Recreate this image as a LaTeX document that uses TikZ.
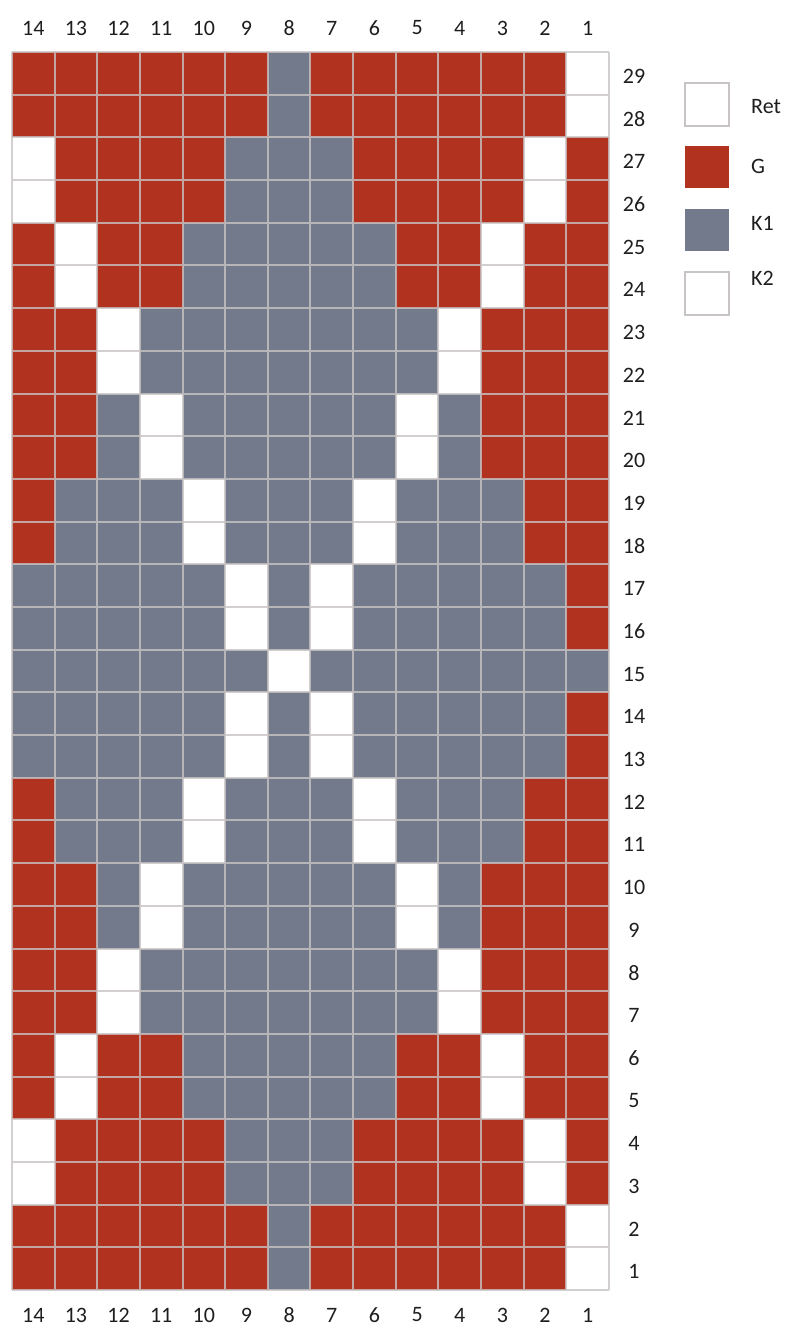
\documentclass[tikz,border=0pt]{standalone}
\usepackage{fontspec}
\setmainfont{Carlito}
\definecolor{c0}{HTML}{FFFFFF}
\definecolor{c1}{HTML}{B0321F}
\definecolor{c2}{HTML}{737A8C}
\definecolor{gline}{HTML}{C8C4C4}
\definecolor{txt}{HTML}{1E1E1E}
\begin{document}
\begin{tikzpicture}[x=1pt,y=-1pt,
  lbl/.style={font=\fontsize{22}{26}\selectfont, text=txt, inner sep=0pt},
  gl/.style={draw=gline, line width=2pt, opacity=0.8},
  legbox/.style={line width=1.8pt, draw=gline}]
\useasboundingbox (0,0) rectangle (799,1328);
\def\cw{42.64}
\def\ch{42.69}
\foreach \row [count=\j] in {
 {1,1,1,1,1,1,2,1,1,1,1,1,1,0},
 {1,1,1,1,1,1,2,1,1,1,1,1,1,0},
 {0,1,1,1,1,2,2,2,1,1,1,1,0,1},
 {0,1,1,1,1,2,2,2,1,1,1,1,0,1},
 {1,0,1,1,2,2,2,2,2,1,1,0,1,1},
 {1,0,1,1,2,2,2,2,2,1,1,0,1,1},
 {1,1,0,2,2,2,2,2,2,2,0,1,1,1},
 {1,1,0,2,2,2,2,2,2,2,0,1,1,1},
 {1,1,2,0,2,2,2,2,2,0,2,1,1,1},
 {1,1,2,0,2,2,2,2,2,0,2,1,1,1},
 {1,2,2,2,0,2,2,2,0,2,2,2,1,1},
 {1,2,2,2,0,2,2,2,0,2,2,2,1,1},
 {2,2,2,2,2,0,2,0,2,2,2,2,2,1},
 {2,2,2,2,2,0,2,0,2,2,2,2,2,1},
 {2,2,2,2,2,2,0,2,2,2,2,2,2,2},
 {2,2,2,2,2,0,2,0,2,2,2,2,2,1},
 {2,2,2,2,2,0,2,0,2,2,2,2,2,1},
 {1,2,2,2,0,2,2,2,0,2,2,2,1,1},
 {1,2,2,2,0,2,2,2,0,2,2,2,1,1},
 {1,1,2,0,2,2,2,2,2,0,2,1,1,1},
 {1,1,2,0,2,2,2,2,2,0,2,1,1,1},
 {1,1,0,2,2,2,2,2,2,2,0,1,1,1},
 {1,1,0,2,2,2,2,2,2,2,0,1,1,1},
 {1,0,1,1,2,2,2,2,2,1,1,0,1,1},
 {1,0,1,1,2,2,2,2,2,1,1,0,1,1},
 {0,1,1,1,1,2,2,2,1,1,1,1,0,1},
 {0,1,1,1,1,2,2,2,1,1,1,1,0,1},
 {1,1,1,1,1,1,2,1,1,1,1,1,1,0},
 {1,1,1,1,1,1,2,1,1,1,1,1,1,0}} {
  \foreach \v [count=\i] in \row {
    \fill[c\v] ({12+(\i-1)*\cw},{52+(\j-1)*\ch}) rectangle ++(\cw,\ch);
  }
}
\draw[gl]
  \foreach \k in {0,...,14} { ({12+\k*\cw},52) -- ({12+\k*\cw},1290) }
  \foreach \k in {0,...,29} { (12,{52+\k*\ch}) -- (609,{52+\k*\ch}) };
\foreach \c in {1,...,14} {
  \node[lbl] (t\c) at ({12+(14-\c+0.5)*\cw},28) {\c};
  \node[lbl] (b\c) at ({12+(14-\c+0.5)*\cw},1315) {\c};
}
\foreach \r in {1,...,29} {
  \node[lbl] (r\r) at (634,{52+(29-\r+0.5)*\ch+3}) {\r};
}
\filldraw[legbox, fill=white] (685,83) rectangle (729,126);
\fill[c1] (685,146) rectangle (729,188);
\fill[c2] (685,209) rectangle (729,251);
\filldraw[legbox, fill=white] (685,272) rectangle (729,315);
\node[lbl, anchor=west] (lret) at (751,107) {Ret};
\node[lbl, anchor=west] (lg) at (751,166) {G};
\node[lbl, anchor=west] (lk1) at (751,223) {K1};
\node[lbl, anchor=west] (lk2) at (751,278) {K2};
\end{tikzpicture}
\end{document}
